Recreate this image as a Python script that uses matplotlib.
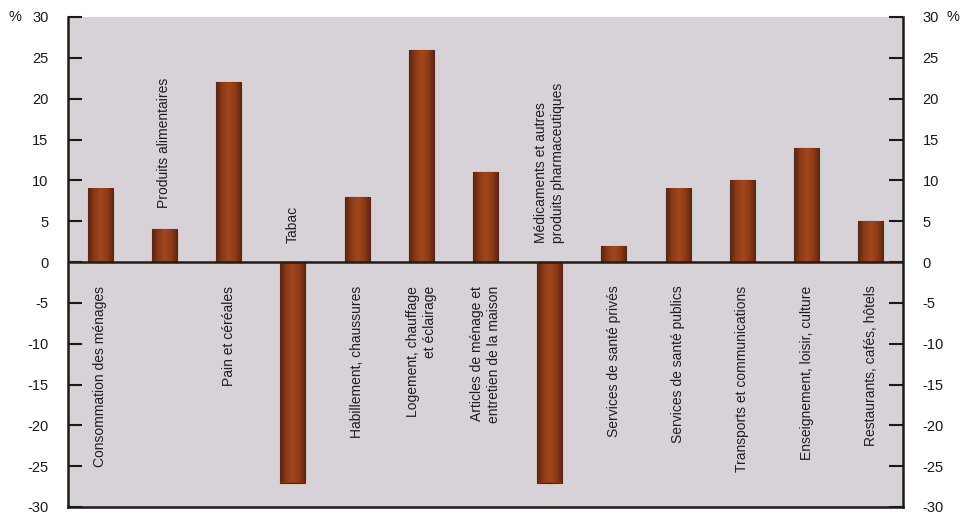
import numpy as np
import matplotlib
matplotlib.use("Agg")
import matplotlib.pyplot as plt
from matplotlib.colors import LinearSegmentedColormap

plt.rcParams['font.family'] = ['Liberation Sans', 'DejaVu Sans']

categories = [
    "Consommation des ménages",
    "Produits alimentaires",
    "Pain et céréales",
    "Tabac",
    "Habillement, chaussures",
    "Logement, chauffage\net éclairage",
    "Articles de ménage et\nentretien de la maison",
    "Médicaments et autres\nproduits pharmaceutiques",
    "Services de santé privés",
    "Services de santé publics",
    "Transports et communications",
    "Enseignement, loisir, culture",
    "Restaurants, cafés, hôtels",
]
values = [9, 4, 22, -27, 8, 26, 11, -27, 2, 9, 10, 14, 5]
yticks = [-30, -25, -20, -15, -10, -5, 0, 5, 10, 15, 20, 25, 30]

# label placement: 'below' hangs from just under the zero line,
# 'above' sits on top of a short bar
label_place = ['below', 'above', 'below', 'above', 'below', 'below', 'below',
               'above', 'below', 'below', 'below', 'below', 'below']
below_y = -2.9
above_y = {1: 6.6, 3: 2.3, 7: 2.3}

fig = plt.figure(figsize=(9.63, 5.15), dpi=100)
ax = fig.add_axes([68 / 963, 8 / 515, 835 / 963, 490 / 515])
ax.set_facecolor('#d7d1d8')

x = np.arange(len(values))
width = 0.39
bars = ax.bar(x, values, width=width, color='#8a3816', edgecolor='#5a2412',
              linewidth=0.8, zorder=2)

# horizontal shading inside each bar: dark edges, warm centre
cmap = LinearSegmentedColormap.from_list(
    'barshade', ['#5a2512', '#8e3a17', '#a2471c', '#8e3a17', '#5a2512'])
grad = np.linspace(0, 1, 64).reshape(1, -1)
for b in bars:
    x0, y0 = b.get_x(), b.get_y()
    w, h = b.get_width(), b.get_height()
    im = ax.imshow(grad, cmap=cmap, aspect='auto', zorder=2.5,
                   extent=[x0, x0 + w, y0, y0 + h], interpolation='bicubic')
    im.set_clip_path(b)

ax.set_xlim(-0.5, len(values) - 0.5)
ax.set_ylim(-30, 30)
ax.axhline(0, color='#2a1a14', linewidth=1.8, zorder=3)

ax.set_xticks([])
ax.set_yticks(yticks)
ax.set_yticklabels([str(t) for t in yticks])
ax.tick_params(axis='y', direction='in', length=10, width=1.5,
               left=True, right=True, labelleft=True, labelright=True,
               labelsize=10.5, pad=14, colors='#1a1a1a')

for side in ['left', 'right', 'bottom']:
    ax.spines[side].set_linewidth(1.8)
    ax.spines[side].set_color('#1e1a18')
ax.spines['top'].set_visible(False)

fig.text(15 / 963, 1 - 17 / 515, '%', fontsize=10.5, ha='center', va='center',
         color='#1a1a1a')
fig.text(953 / 963, 1 - 17 / 515, '%', fontsize=10.5, ha='center', va='center',
         color='#1a1a1a')

for i, (cat, place) in enumerate(zip(categories, label_place)):
    if place == 'below':
        ax.text(x[i], below_y, cat, rotation=90, ha='center', va='top',
                multialignment='right', fontsize=10, color='#1e1e1e',
                linespacing=1.25, zorder=4)
    else:
        ax.text(x[i], above_y[i], cat, rotation=90, ha='center', va='bottom',
                multialignment='left', fontsize=10, color='#1e1e1e',
                linespacing=1.25, zorder=4)

fig.savefig('out.png', dpi=100)
